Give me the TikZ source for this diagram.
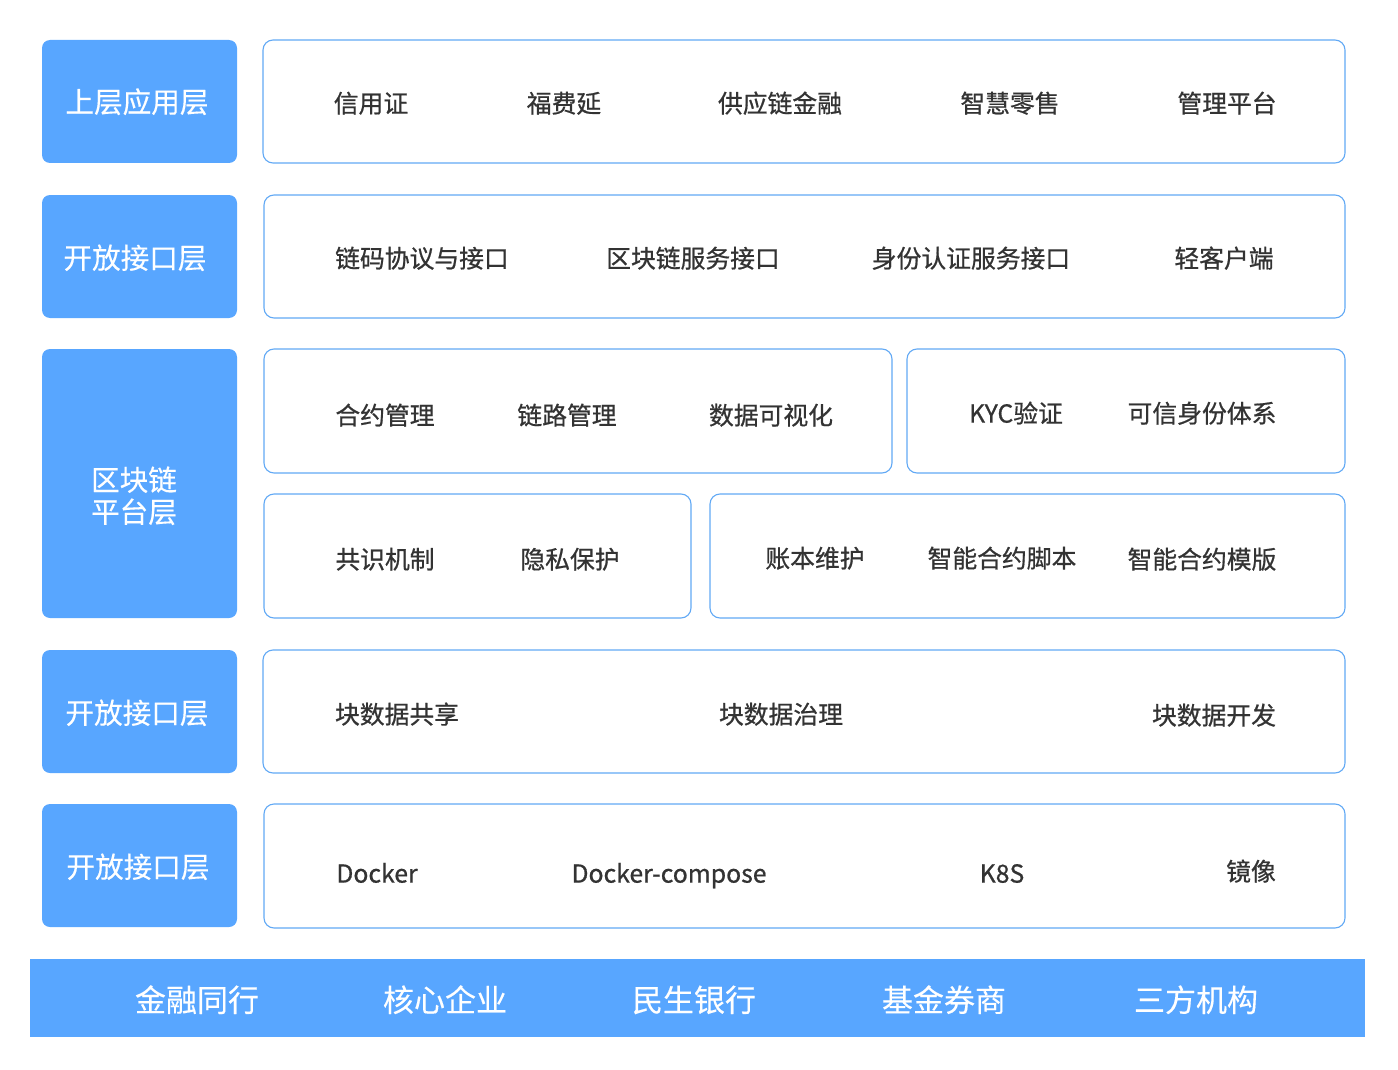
\documentclass[tikz,border=0pt]{standalone}
\usepackage{fontspec}
\setmainfont{Noto Sans CJK SC}
\newfontfamily\medfont{Noto Sans CJK SC}[FakeBold=0.7]
\newfontfamily\lblfont{Noto Sans CJK SC}[FakeBold=0.3]
\definecolor{lblue}{HTML}{58A6FF}
\definecolor{bline}{HTML}{62A9F5}
\definecolor{txt}{HTML}{333333}
\begin{document}
\begin{tikzpicture}[x=1pt,y=-1pt,
  lbl/.style={fill=lblue,draw=none,rounded corners=8pt,text=white,font=\lblfont\fontsize{28.6}{33}\selectfont,align=center},
  ltxt/.style={text=white,font=\lblfont\fontsize{28.6}{33}\selectfont,text height=0.86em,text depth=0.14em,inner sep=0pt,yshift=-7pt},
  pane/.style={draw=bline,line width=1.1pt,fill=white,rounded corners=10pt},
  item/.style={text=txt,font=\medfont\fontsize{24.8}{29}\selectfont,text height=0.86em,text depth=0.14em,inner sep=0pt,yshift=-6pt},
  bar/.style={fill=lblue,draw=none},
  btxt/.style={text=white,font=\lblfont\fontsize{31}{36}\selectfont,text height=0.86em,text depth=0.14em,inner sep=0pt,yshift=-8pt}]
\useasboundingbox (0,0) rectangle (1398,1070);
% left labels
\node[lbl,minimum width=195pt,minimum height=123pt] (L1) at (139.5,101.5) {};
\node[ltxt] (L1t) at (137,102) {上层应用层};
\node[lbl,minimum width=195pt,minimum height=123pt] (L2) at (139.5,256.5) {};
\node[ltxt] (L2t) at (135,258) {开放接口层};
\node[lbl,minimum width=195pt,minimum height=269pt] (L3) at (139.5,483.5) {};
\node[ltxt] (L3a) at (134,480) {区块链};
\node[ltxt] (L3b) at (134,512) {平台层};
\node[lbl,minimum width=195pt,minimum height=123pt] (L4) at (139.5,711.5) {};
\node[ltxt] (L4t) at (137,713) {开放接口层};
\node[lbl,minimum width=195pt,minimum height=123pt] (L5) at (139.5,865.5) {};
\node[ltxt] (L5t) at (138,867) {开放接口层};
% panes
\node[pane,minimum width=1082pt,minimum height=123pt] (P1) at (804,101.5) {};
\node[pane,minimum width=1081pt,minimum height=123pt] (P2) at (804.5,256.5) {};
\node[pane,minimum width=628pt,minimum height=124pt] (P3a) at (578,411) {};
\node[pane,minimum width=438pt,minimum height=124pt] (P3b) at (1126,411) {};
\node[pane,minimum width=427pt,minimum height=124pt] (P3c) at (477.5,556) {};
\node[pane,minimum width=635pt,minimum height=124pt] (P3d) at (1027.5,556) {};
\node[pane,minimum width=1082pt,minimum height=123pt] (P4) at (804,711.5) {};
\node[pane,minimum width=1081pt,minimum height=124pt] (P5) at (804.5,866) {};
% row 1
\node[item] (a1) at (371,103) {信用证};
\node[item] (a2) at (564,103) {福费延};
\node[item] (a3) at (780,103) {供应链金融};
\node[item] (a4) at (1010,103) {智慧零售};
\node[item] (a5) at (1227,103) {管理平台};
% row 2
\node[item] (b1) at (422,258) {链码协议与接口};
\node[item] (b2) at (693,258) {区块链服务接口};
\node[item] (b3) at (971,258) {身份认证服务接口};
\node[item] (b4) at (1224,258) {轻客户端};
% row 3 top
\node[item] (c1) at (385,415) {合约管理};
\node[item] (c2) at (567,415) {链路管理};
\node[item] (c3) at (771,415) {数据可视化};
\node[item] (c4) at (1016,413) {KYC验证};
\node[item] (c5) at (1202,413) {可信身份体系};
% row 3 bottom
\node[item] (d1) at (385,559) {共识机制};
\node[item] (d2) at (570,559) {隐私保护};
\node[item] (d3) at (815,558) {账本维护};
\node[item] (d4) at (1002,558) {智能合约脚本};
\node[item] (d5) at (1202,559) {智能合约模版};
% row 4
\node[item] (e1) at (397,714) {块数据共享};
\node[item] (e2) at (781,714) {块数据治理};
\node[item] (e3) at (1214,715) {块数据开发};
% row 5
\node[item] (f1) at (377,873) {Docker};
\node[item] (f2) at (669,873) {Docker-compose};
\node[item] (f3) at (1002,873) {K8S};
\node[item] (f4) at (1251,871) {镜像};
% bottom bar
\node[bar,minimum width=1335pt,minimum height=78pt,inner sep=0pt] (B) at (697.5,998) {};
\node[btxt] (g1) at (197,1000) {金融同行};
\node[btxt] (g2) at (445,1000) {核心企业};
\node[btxt] (g3) at (694,1000) {民生银行};
\node[btxt] (g4) at (944,1000) {基金券商};
\node[btxt] (g5) at (1196,1000) {三方机构};
\end{tikzpicture}
\end{document}
